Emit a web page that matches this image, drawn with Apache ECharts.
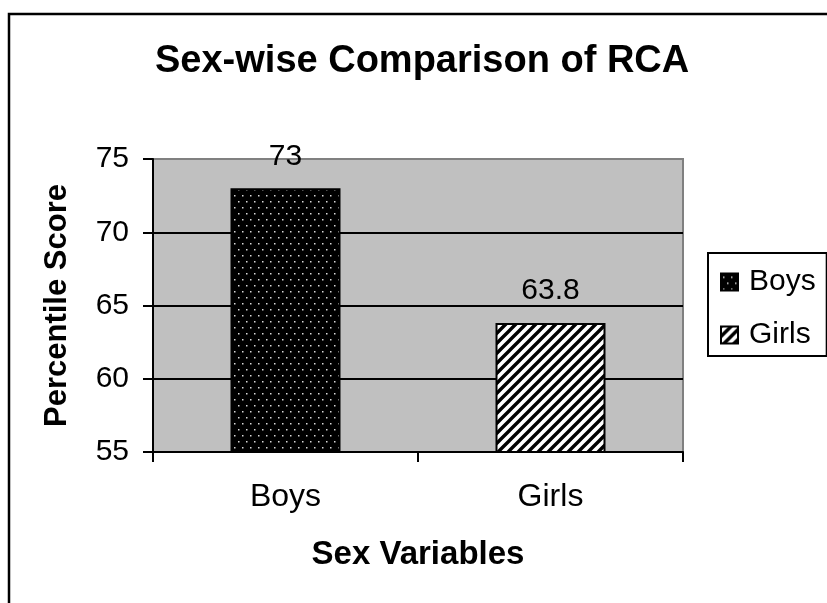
<!DOCTYPE html>
<html>
<head>
<meta charset="utf-8">
<script src="https://cdn.jsdelivr.net/npm/echarts@6/dist/echarts.min.js"></script>
<style>
  html, body { margin: 0; padding: 0; background: #fff; }
  #chart { width: 827px; height: 603px; }
</style>
</head>
<body>
<div id="chart"></div>
<script>
// Chart data
const categories = ['Boys', 'Girls'];
const seriesNames = ['Boys', 'Girls'];
const scores = [73, 63.8];
const yTicks = [55, 60, 65, 70, 75];

const FONT = '"Liberation Sans", Arial, sans-serif';

// Black fill with a staggered grid of small white dots
function dotPattern() {
  const c = document.createElement('canvas');
  c.width = 8; c.height = 12;
  const g = c.getContext('2d');
  g.fillStyle = '#000';
  g.fillRect(0, 0, 8, 12);
  g.fillStyle = '#d8d8d8';
  g.fillRect(2, 3, 1.5, 1.5);
  g.fillRect(6, 9, 1.5, 1.5);
  return c;
}

// White fill with black "/" diagonal stripes
function stripePattern() {
  const c = document.createElement('canvas');
  c.width = 10; c.height = 10;
  const g = c.getContext('2d');
  g.fillStyle = '#fff';
  g.fillRect(0, 0, 10, 10);
  g.strokeStyle = '#000';
  g.lineWidth = 3.4;
  g.beginPath();
  g.moveTo(-5, 5); g.lineTo(5, -5);
  g.moveTo(0, 10); g.lineTo(10, 0);
  g.moveTo(5, 15); g.lineTo(15, 5);
  g.stroke();
  return c;
}

const fills = [
  { image: dotPattern(), repeat: 'repeat' },
  { image: stripePattern(), repeat: 'repeat' }
];

const chart = echarts.init(document.getElementById('chart'), null, { renderer: 'canvas' });

const series = seriesNames.map((name, i) => ({
  name: name,
  type: 'bar',
  barWidth: 110,
  barGap: '-100%',
  data: categories.map((c, j) => (j === i ? scores[j] : '-')),
  itemStyle: { color: fills[i], borderColor: '#000', borderWidth: 2 },
  label: {
    show: true,
    position: 'top',
    distance: 17,
    fontFamily: FONT,
    fontSize: 30,
    color: '#000'
  },
  emphasis: { disabled: true }
}));

chart.setOption({
  animation: false,
  backgroundColor: '#fff',
  graphic: [{
    type: 'rect',
    shape: { x: 9, y: 14, width: 1000, height: 800 },
    style: { fill: 'none', stroke: '#000', lineWidth: 2.5 },
    silent: true,
    z: 100
  }],
  title: {
    text: 'Sex-wise Comparison of RCA',
    left: 155,
    top: 43,
    padding: 0,
    textStyle: { fontFamily: FONT, fontSize: 38, fontWeight: 'bold', color: '#000' }
  },
  legend: {
    orient: 'vertical',
    left: 708,
    top: 253,
    data: seriesNames,
    itemWidth: 17,
    itemHeight: 17,
    itemGap: 23,
    icon: 'rect',
    padding: [14, 11, 6, 12],
    borderColor: '#000',
    borderWidth: 2,
    textStyle: { fontFamily: FONT, fontSize: 30, color: '#000', padding: [0, 0, 0, 6] },
    selectedMode: false
  },
  grid: {
    left: 153,
    top: 159,
    right: 144,
    bottom: 151,
    show: true,
    backgroundColor: '#c0c0c0',
    borderColor: '#808080',
    borderWidth: 2,
    containLabel: false
  },
  xAxis: {
    type: 'category',
    data: categories,
    name: 'Sex Variables',
    nameLocation: 'middle',
    nameGap: 86,
    nameTextStyle: { fontFamily: FONT, fontSize: 33, fontWeight: 'bold', color: '#000' },
    axisLine: { lineStyle: { color: '#000', width: 2 } },
    axisTick: { show: true, length: 10, lineStyle: { color: '#000', width: 2 } },
    axisLabel: { fontFamily: FONT, fontSize: 32, color: '#000', margin: 29 },
    splitLine: { show: false }
  },
  yAxis: {
    type: 'value',
    min: yTicks[0],
    max: yTicks[yTicks.length - 1],
    interval: 5,
    name: 'Percentile Score',
    nameLocation: 'middle',
    nameGap: 80,
    nameTextStyle: { fontFamily: FONT, fontSize: 31, fontWeight: 'bold', color: '#000' },
    axisLine: { show: true, lineStyle: { color: '#000', width: 2 } },
    axisTick: { show: true, length: 10, lineStyle: { color: '#000', width: 2 } },
    axisLabel: { fontFamily: FONT, fontSize: 30, color: '#000', margin: 24 },
    splitLine: { show: true, showMinLine: false, showMaxLine: false, lineStyle: { color: '#000', width: 2 } }
  },
  series: series
});
</script>
</body>
</html>
